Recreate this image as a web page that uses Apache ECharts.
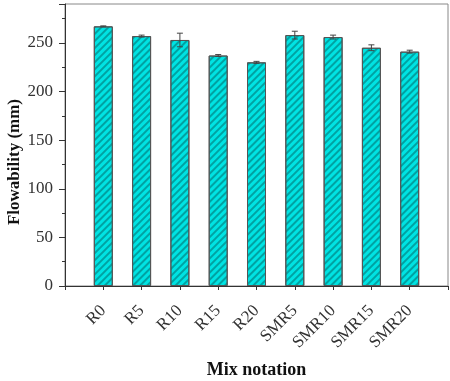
<!DOCTYPE html>
<html>
<head>
<meta charset="utf-8">
<script src="https://cdn.jsdelivr.net/npm/echarts@6/dist/echarts.min.js"></script>
<style>
  html, body { margin: 0; padding: 0; background: #fff; }
  #chart { width: 450px; height: 381px; }
</style>
</head>
<body>
<div id="chart"></div>
<script>
const mixes = ['R0', 'R5', 'R10', 'R15', 'R20', 'SMR5', 'SMR10', 'SMR15', 'SMR20']
const flowability = [267, 257, 253, 237, 230, 258, 256, 245, 241]
const flowErr = [0.5, 1, 7, 1, 1, 4, 2, 3, 1.5]
const yTicks = [0, 50, 100, 150, 200, 250]

const font = 'Liberation Serif, Times New Roman, serif'
const chart = echarts.init(document.getElementById('chart'))

const barData = mixes.map((m, i) => [i + 1, flowability[i]])
const errData = mixes.map((m, i) => [i + 1, flowability[i] - flowErr[i], flowability[i] + flowErr[i]])

const option = {
  animation: false,
  grid: {
    left: 65,
    right: 2,
    top: 4,
    bottom: 95,
    containLabel: false,
    outerBoundsMode: 'none',
    show: true,
    borderColor: '#888',
    borderWidth: 1,
  },
  xAxis: {
    type: 'value',
    min: 0,
    max: 10,
    interval: 1,
    name: 'Mix notation',
    nameLocation: 'middle',
    nameGap: 75,
    nameMoveOverlap: false,
    nameTextStyle: { fontFamily: font, fontWeight: 'bold', fontSize: 18, color: '#111' },
    axisLine: { lineStyle: { color: '#333', width: 1 } },
    axisTick: { inside: false, length: 4, lineStyle: { color: '#333' } },
    splitLine: { show: false },
    axisLabel: {
      rotate: 45,
      margin: 22,
      fontFamily: font,
      fontSize: 17,
      color: '#333',
      formatter: v => (v >= 1 && v <= mixes.length ? mixes[v - 1] : ''),
    },
  },
  yAxis: {
    type: 'value',
    min: 0,
    max: 290,
    interval: 50,
    name: 'Flowability (mm)',
    nameLocation: 'middle',
    nameGap: 42,
    nameMoveOverlap: false,
    nameTextStyle: {
      fontFamily: font,
      fontWeight: 'bold',
      fontSize: 17,
      color: '#111',
      padding: [0, 34, 0, 0],
    },
    axisLine: { show: true, lineStyle: { color: '#333', width: 1 } },
    axisTick: { show: true, length: 6, lineStyle: { color: '#333' } },
    minorTick: { show: true, splitNumber: 2, length: 3, lineStyle: { color: '#333' } },
    splitLine: { show: false },
    axisLabel: {
      fontFamily: font,
      fontSize: 17,
      color: '#333',
      margin: 12,
      formatter: v => (yTicks.includes(v) ? String(v) : ''),
    },
  },
  series: [
    {
      type: 'bar',
      data: barData,
      barWidth: 19,
      itemStyle: {
        color: '#00e3e3',
        borderColor: '#555',
        borderWidth: 1,
        decal: {
          symbol: 'rect',
          dashArrayX: [1, 0],
          dashArrayY: [1.5, 2.5],
          rotation: -Math.PI / 4,
          color: 'rgba(0, 110, 110, 0.55)',
        },
      },
    },
    {
      type: 'custom',
      data: errData,
      renderItem: (params, api) => {
        const x = api.value(0)
        const lo = api.coord([x, api.value(1)])
        const hi = api.coord([x, api.value(2)])
        const w = 3
        const style = { stroke: '#444', lineWidth: 1 }
        return {
          type: 'group',
          children: [
            { type: 'line', shape: { x1: lo[0], y1: lo[1], x2: hi[0], y2: hi[1] }, style },
            { type: 'line', shape: { x1: hi[0] - w, y1: hi[1], x2: hi[0] + w, y2: hi[1] }, style },
            { type: 'line', shape: { x1: lo[0] - w, y1: lo[1], x2: lo[0] + w, y2: lo[1] }, style },
          ],
        }
      },
      z: 5,
    },
  ],
}

chart.setOption(option)
</script>
</body>
</html>
